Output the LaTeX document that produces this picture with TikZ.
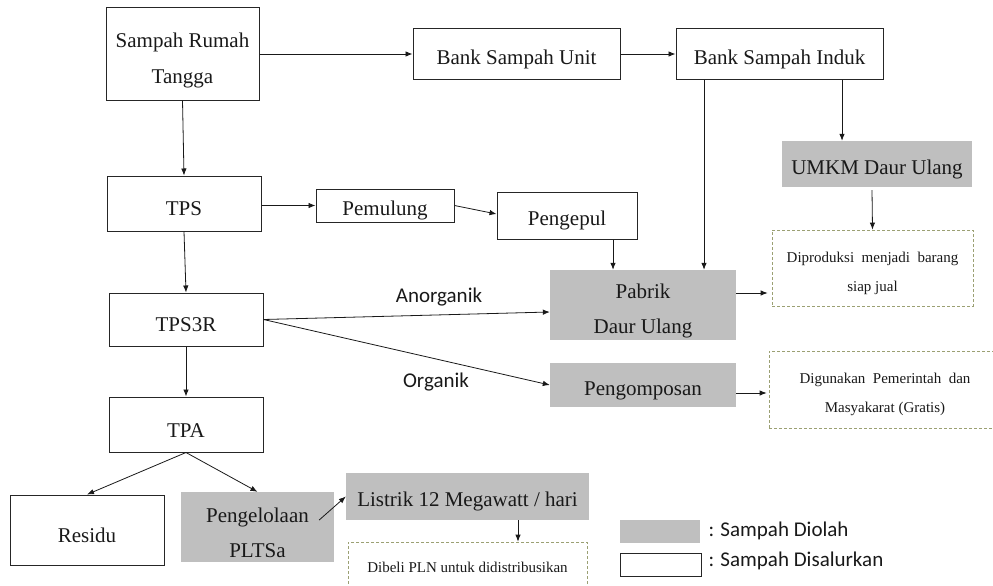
\documentclass[tikz,border=0pt]{standalone}
\usepackage{fontspec}
\setmainfont{Liberation Serif}
\newfontfamily\calib{Carlito}
\usetikzlibrary{arrows.meta,calc}
\definecolor{boxgray}{RGB}{191,191,191}
\definecolor{dashcol}{RGB}{155,160,115}
\definecolor{txt}{RGB}{25,25,25}
\newcommand\bigst{\rule{0pt}{25pt}}
\newcommand\tallst{\rule{0pt}{27pt}}
\newcommand\smallst{\rule{0pt}{21pt}}
\begin{document}
\begin{tikzpicture}[x=1pt,y=-1pt,
  every node/.style={text=txt},
  plain/.style={draw=black!85, line width=1pt, inner sep=0pt, align=center,
     font=\fontsize{21}{36}\selectfont, execute at begin node=\bigst},
  shaded/.style={fill=boxgray, inner sep=0pt, align=center,
     font=\fontsize{21}{35}\selectfont, execute at begin node=\bigst},
  note/.style={draw=dashcol, dash pattern=on 3pt off 2pt, line width=0.8pt, inner sep=0pt,
     align=center, font=\fontsize{15}{29}\selectfont},
  lbl/.style={font=\calib\fontsize{21}{24}\selectfont},
  arr/.style={draw=black!90, line width=0.8pt, -{Latex[length=7pt,width=5.5pt]}}]
\useasboundingbox (0,0) rectangle (993,586);
\clip (0,0) rectangle (993,586);
% nodes
\node[plain, minimum width=153, minimum height=92] (srt) at (182.5,54) {\tallst Sampah Rumah\\Tangga};
\node[plain, minimum width=207, minimum height=50] (unit) at (516.5,54) {Bank Sampah Unit};
\node[plain, minimum width=207, minimum height=50] (induk) at (779.5,54) {Bank Sampah Induk};
\node[plain, minimum width=154, minimum height=55] (tps) at (184,203.5) {TPS};
\node[plain, minimum width=138, minimum height=33] (pemulung) at (385,205.5) {Pemulung};
\node[plain, minimum width=140, minimum height=47] (pengepul) at (567,215.5) {Pengepul};
\node[plain, minimum width=154, minimum height=53] (tps3r) at (186,319.5) {TPS3R};
\node[plain, minimum width=154, minimum height=55] (tpa) at (186,424.5) {TPA};
\node[plain, minimum width=154, minimum height=70] (residu) at (87,530) {Residu};
\node[shaded, minimum width=153, minimum height=70] (pltsa) at (257.5,527) {\tallst Pengelolaan\\PLTSa};
\node[shaded, minimum width=243, minimum height=47] (listrik) at (467.5,496.5) {Listrik 12 Megawatt / hari};
\node[note, minimum width=239, minimum height=48] (dibeli) at (467.5,566) {\rule{0pt}{13pt}Dibeli PLN untuk didistribusikan};
\node[shaded, minimum width=186, minimum height=70] (pabrik) at (643,305) {\tallst Pabrik\\Daur Ulang};
\node[shaded, minimum width=186, minimum height=44] (kompos) at (643,385) {Pengomposan};
\node[shaded, minimum width=190, minimum height=46] (umkm) at (877,164) {UMKM Daur Ulang};
\node[note, minimum width=201, minimum height=76] (diprod) at (872.5,268) {\smallst Diproduksi \ menjadi \ barang\\siap jual};
\node[note, minimum width=232, minimum height=77] (diguna) at (885,389.5) {\smallst Digunakan \ Pemerintah \ dan\\Masyakarat (Gratis)};
% legend
\node[fill=boxgray, minimum width=80, minimum height=23, inner sep=0pt] (legg) at (660,531.5) {};
\node[draw=black!85, line width=1pt, minimum width=81, minimum height=23, inner sep=0pt] (legw) at (660.5,564.5) {};
\node[lbl, anchor=west] (leggt) at (705,531) {: Sampah Diolah};
\node[lbl, anchor=west] (legwt) at (705,561) {: Sampah Disalurkan};
% labels
\node[lbl] (anorg) at (439,297) {Anorganik};
\node[lbl] (org) at (436,382) {Organik};
% connectors
\draw[arr] (srt.east) -- (unit.west);
\draw[arr] (unit.east) -- (induk.west);
\draw[arr] (srt.south) -- (tps.north);
\draw[arr] (pemulung.west -| tps.east) -- (pemulung.west);
\draw[arr] (pemulung.east) -- ($(pengepul.west)+(0,-1.5)$);
\draw[arr] (tps.south) -- (tps3r.north);
\draw[arr] (tps3r.south) -- (tpa.north);
\draw[arr] (tpa.south) -- (residu.north);
\draw[arr] (tpa.south) -- (pltsa.north);
\draw[arr] ($(pltsa.east)+(-15,-7)$) -- (listrik.west);
\draw[arr] ($(listrik.south)+(50.5,0)$) -- ($(dibeli.north)+(50.5,0)$);
\draw[arr] ($(pengepul.south)+(46,0)$) -- ($(pabrik.north)+(-30,0)$);
\draw[arr] ($(induk.south)+(-75.5,0)$) -- ($(pabrik.north)+(61,0)$);
\draw[arr] ($(induk.south)+(62.5,0)$) -- ($(umkm.north)+(-35,0)$);
\draw[arr] ($(umkm.south)+(-5,3)$) -- (diprod.north);
\draw[arr] ($(pabrik.east)+(0,-12)$) -- ($(diprod.west)+(-4,25)$);
\draw[arr] ($(kompos.east)+(0,8)$) -- ($(diguna.west)+(-2,3.5)$);
\draw[arr] (tps3r.east) -- ($(pabrik.west)+(0,7)$);
\draw[arr] (tps3r.east) -- (kompos.west);
\end{tikzpicture}
\end{document}
